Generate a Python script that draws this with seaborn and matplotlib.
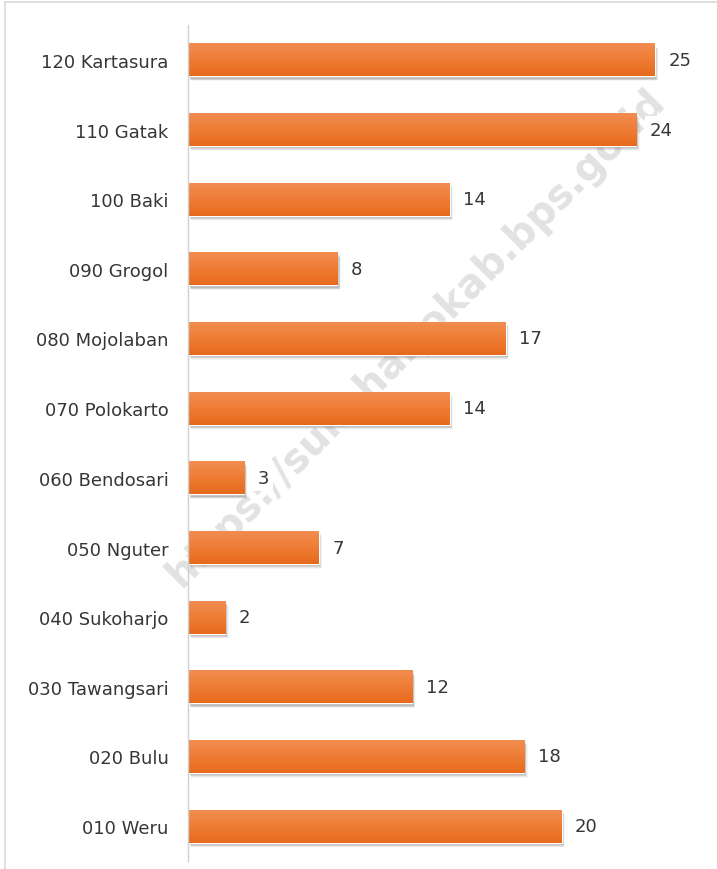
import numpy as np
import pandas as pd
import matplotlib
matplotlib.use("Agg")
import matplotlib.pyplot as plt
import matplotlib.transforms as mtransforms
from matplotlib.patches import Rectangle
from matplotlib.colors import LinearSegmentedColormap
import seaborn as sns

# Kecamatan (top to bottom) and their counts
kecamatan = ["120 Kartasura", "110 Gatak", "100 Baki", "090 Grogol", "080 Mojolaban",
             "070 Polokarto", "060 Bendosari", "050 Nguter", "040 Sukoharjo",
             "030 Tawangsari", "020 Bulu", "010 Weru"]
jumlah = [25, 24, 14, 8, 17, 14, 3, 7, 2, 12, 18, 20]

watermark = "https://sukoharjokab.bps.go.id"

sns.set_theme(style="white")
plt.rcParams["font.family"] = ["DejaVu Sans"]

TEXT = "#363636"
ORANGE = "#ED7D31"

df = pd.DataFrame({"kecamatan": kecamatan, "jumlah": jumlah})

fig = plt.figure(figsize=(7.17, 8.70), dpi=100)
fig.patch.set_facecolor("white")

# frame lines along the top and left of the figure
fig.add_artist(plt.Line2D([5 / 717, 1.0], [1 - 3 / 870, 1 - 3 / 870], color="#d9d9d9", lw=1.2))
fig.add_artist(plt.Line2D([5 / 717, 5 / 717], [0.0, 1 - 3 / 870], color="#d9d9d9", lw=1.2))

# diagonal watermark, behind the bars
wm = fig.text(0.580, 0.611, watermark, rotation=45, ha="center", va="center",
              fontsize=28.5, fontweight="bold", color="#e2e2e2", family="DejaVu Sans")
wm.set_zorder(0)

ax = fig.add_axes([188 / 717, 8 / 870, 523 / 717, 836 / 870])
ax.set_zorder(2)
ax.patch.set_alpha(0)

sns.barplot(data=df, x="jumlah", y="kecamatan", orient="h", color=ORANGE,
            width=0.47, saturation=1, ax=ax, zorder=3)

ax.set_xlim(0, 28)
ax.set_ylim(len(kecamatan) - 0.5, -0.5)

# light at the top edge, deeper orange at the bottom edge
grad = LinearSegmentedColormap.from_list("bar", ["#F28D50", "#EE7C35", "#E76A1C"])
gimg = np.linspace(0, 1, 64).reshape(-1, 1)

for patch, val in zip(ax.patches, jumlah):
    x0, y0 = patch.get_x(), patch.get_y()
    w, h = patch.get_width(), patch.get_height()
    # soft drop shadow below and right of each bar
    for k, a in enumerate([0.16, 0.12, 0.08, 0.05]):
        off = mtransforms.offset_copy(ax.transData, fig=fig, x=1.5 + 0.6 * k,
                                      y=-2.5 - 0.8 * k, units="dots")
        ax.add_patch(Rectangle((x0, y0), w, h, transform=off, facecolor="#404040",
                               edgecolor="none", alpha=a, zorder=2))
    # y axis is inverted: y0 is the top edge of the bar
    im = ax.imshow(gimg, cmap=grad, aspect="auto", extent=(x0, x0 + w, y0 + h, y0),
                   origin="upper", zorder=4, interpolation="bicubic")
    im.set_clip_path(patch)
    ax.text(val + 0.72, y0 + h / 2, str(val), va="center", ha="left",
            fontsize=13, color=TEXT, zorder=5,
            bbox=dict(boxstyle="square,pad=0.25", facecolor="white", edgecolor="none"))

ax.set_xlim(0, 28)
ax.set_ylim(len(kecamatan) - 0.5, -0.5)

ax.set_xlabel("")
ax.set_ylabel("")
ax.set_xticks([])
ax.tick_params(axis="y", length=0, pad=14, labelsize=13, labelcolor=TEXT)
for s in ["top", "right", "bottom"]:
    ax.spines[s].set_visible(False)
ax.spines["left"].set_color("#d0d0d0")
ax.spines["left"].set_linewidth(1.0)
ax.spines["left"].set_zorder(6)

fig.savefig("out.png", dpi=100)
